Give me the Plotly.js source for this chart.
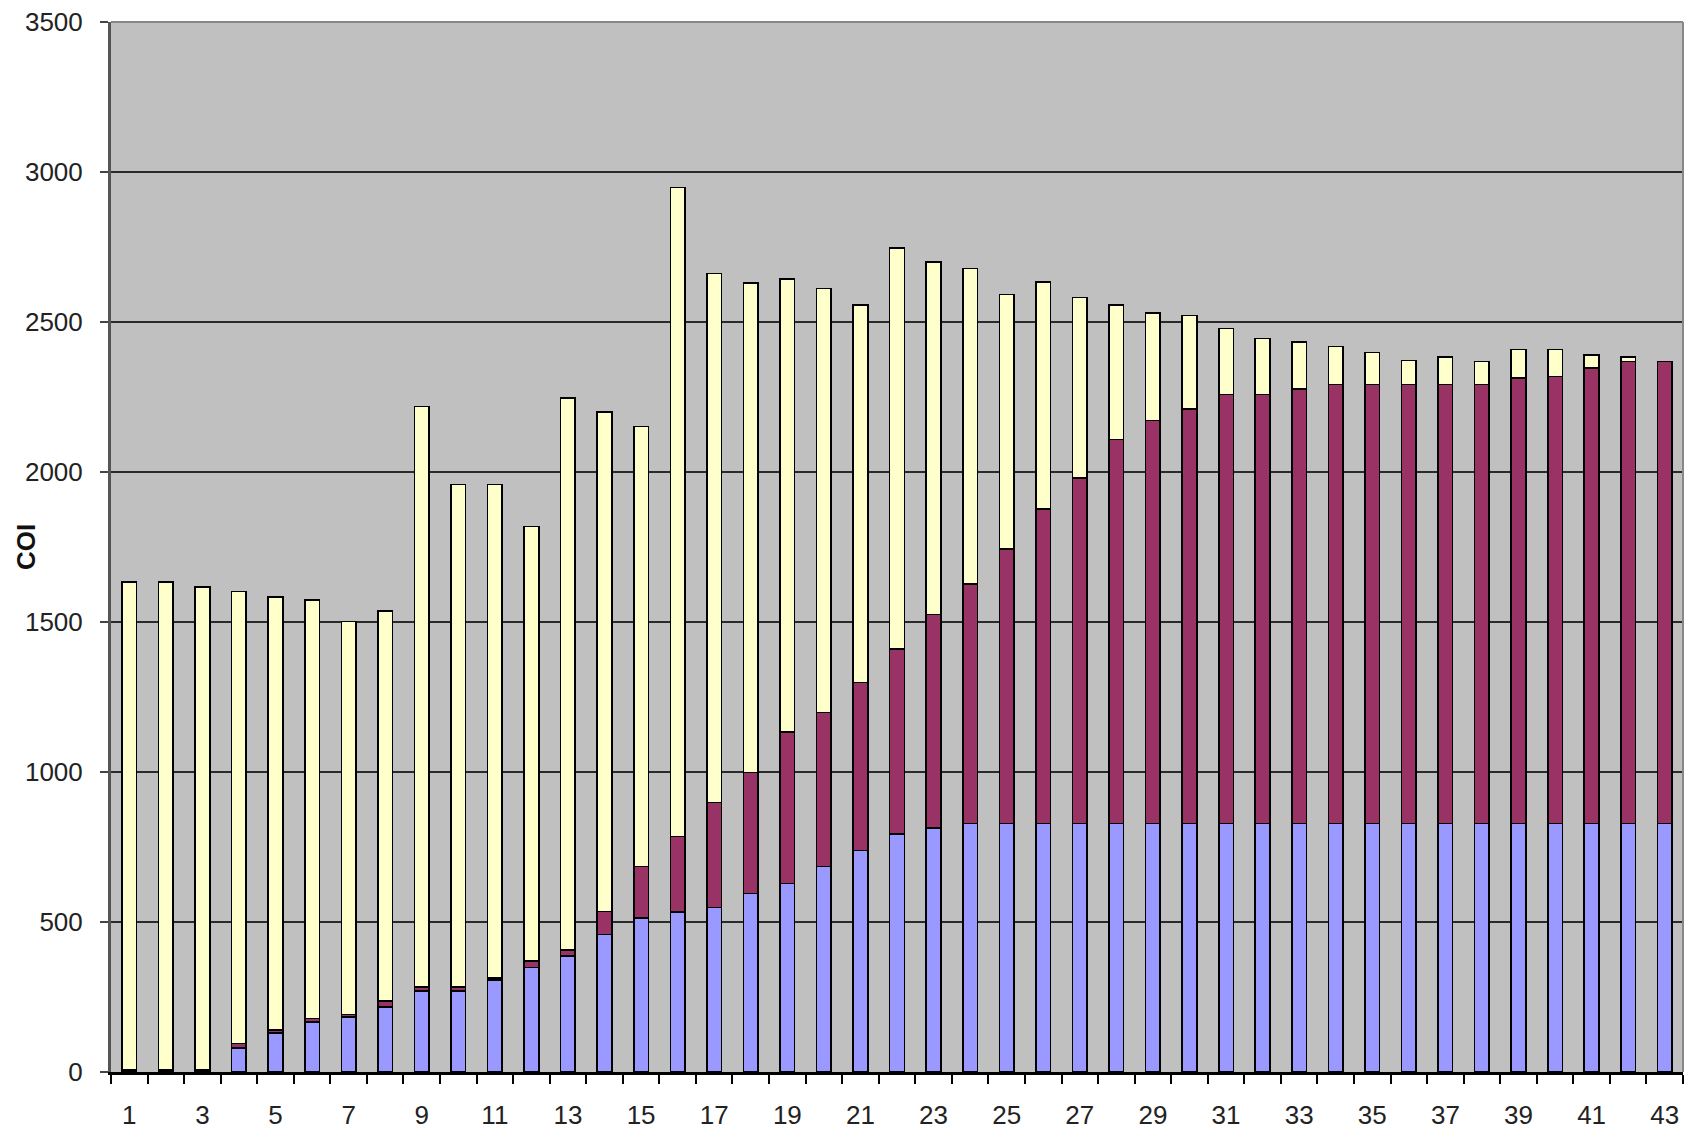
<!DOCTYPE html>
<html>
<head>
<meta charset="utf-8">
<script src="https://cdn.plot.ly/plotly-3.0.1.min.js"></script>
<style>html,body{margin:0;padding:0;background:#fff;}#chart{width:1686px;height:1132px;}</style>
</head>
<body>
<div id="chart"></div>
<script>
// Categories (sample index)
const categories = [1,2,3,4,5,6,7,8,9,10,11,12,13,14,15,16,17,18,19,20,21,22,23,24,25,26,27,28,29,30,31,32,33,34,35,36,37,38,39,40,41,42,43];
// Bottom segment (blue)
const blueVals = [3,3,3,81,130,167,184,217,270,270,306,348,386,458,513,533,548,595,629,685,738,794,813,829,828,828,828,828,828,828,828,828,828,828,828,828,828,828,828,828,828,828,828];
// Middle segment (maroon)
const maroonVals = [5,5,5,14,11,11,8,20,14,14,8,22,20,77,172,252,350,403,504,513,560,616,712,798,915,1049,1153,1281,1344,1382,1431,1431,1448,1464,1464,1464,1464,1464,1486,1491,1519,1541,1541];
// Top segment (light yellow)
const yellowVals = [1625,1625,1609,1507,1443,1395,1310,1300,1935,1674,1644,1449,1840,1666,1467,2164,1764,1633,1510,1414,1258,1336,1176,1052,849,757,601,447,358,312,219,186,158,126,107,80,91,77,95,90,44,14,0];
const tickVals = [1,3,5,7,9,11,13,15,17,19,21,23,25,27,29,31,33,35,37,39,41,43];
const tickText = ["1","3","5","7","9","11","13","15","17","19","21","23","25","27","29","31","33","35","37","39","41","43"];
const yTitle = 'COI';

const outline = {color:'#000000', width:1.6};
const traces = [
  {type:'bar', name:'Series 1', x:categories, y:blueVals, marker:{color:'#9999FF', line:outline}},
  {type:'bar', name:'Series 2', x:categories, y:maroonVals, marker:{color:'#993366', line:outline}},
  {type:'bar', name:'Series 3', x:categories, y:yellowVals, marker:{color:'#FFFFCC', line:outline}}
];

const font = {family:'"Liberation Sans", Arial, sans-serif', size:26, color:'#222222'};
const layout = {
  width:1686, height:1132,
  barmode:'stack', bargap:0.6,
  showlegend:false,
  paper_bgcolor:'#ffffff', plot_bgcolor:'#C0C0C0',
  margin:{l:111, r:3, t:22, b:60},
  font:font,
  xaxis:{
    type:'linear', range:[0.5,43.5],
    tickmode:'array', tickvals:tickVals, ticktext:tickText,
    ticks:'', ticklabelstandoff:18,
    showgrid:false, zeroline:false,
    showline:true, linecolor:'#000000', linewidth:3,
    tickfont:font,
    minor:{tickmode:'linear', tick0:0.5, dtick:1, ticks:'outside', ticklen:9, tickcolor:'#000000', tickwidth:2, showgrid:false}
  },
  yaxis:{
    range:[0,3500], dtick:500, tick0:0,
    ticks:'outside', ticklen:8, tickcolor:'#444444', tickwidth:2,
    ticklabelstandoff:12,
    showgrid:true, gridcolor:'#2a2a2a', gridwidth:2.5,
    zeroline:false,
    showline:true, linecolor:'#555555', linewidth:3,
    tickfont:font
  },
  annotations:[
    {text:'<b>'+yTitle+'</b>', xref:'paper', yref:'paper', x:-0.054, y:0.5, xanchor:'center', yanchor:'middle',
     textangle:-90, showarrow:false, font:{family:'"Liberation Sans", Arial, sans-serif', size:26, color:'#111111'}}
  ],
  shapes:[
    {type:'line', xref:'paper', yref:'paper', x0:0, x1:1, y0:1, y1:1, line:{color:'#888888', width:2}},
    {type:'line', xref:'paper', yref:'paper', x0:1, x1:1, y0:0, y1:1, line:{color:'#888888', width:2}}
  ]
};
Plotly.newPlot('chart', traces, layout, {staticPlot:true, displayModeBar:false});
</script>
</body>
</html>
